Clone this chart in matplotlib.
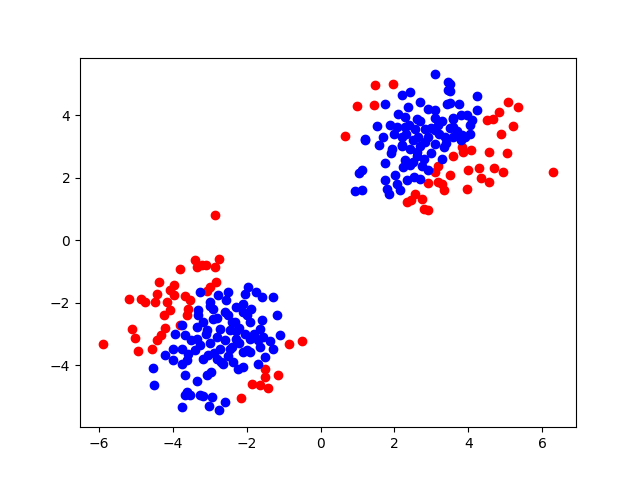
import matplotlib
matplotlib.use("Agg")
import matplotlib.pyplot as plt

# upper right cluster
red1_x = [1.48, 1.96, 0.98, 1.45, 0.65, 5.09, 5.34, 4.84, 4.68, 4.52, 5.2, 4.89,
          3.10, 3.19, 2.90, 3.18, 3.28, 3.33, 2.56, 2.34, 2.74, 2.79, 2.92, 2.45,
          3.83, 3.6, 3.87, 4.07, 4.57, 5.06, 3.51, 4.0, 4.30, 4.71, 4.94, 4.35,
          4.57, 3.96, 6.31]
red1_y = [4.96, 4.98, 4.29, 4.34, 3.33, 4.41, 4.26, 4.11, 3.89, 3.84, 3.65, 3.41,
          2.19, 2.37, 1.83, 1.87, 1.81, 1.6, 1.49, 1.23, 1.33, 1.01, 0.98, 1.3,
          2.97, 2.69, 2.83, 2.90, 2.83, 2.79, 2.08, 2.24, 2.31, 2.31, 2.19, 2.0,
          1.87, 1.65, 2.19]
blue1_x = [4.23, 3.76, 4.23, 3.51, 3.51, 3.51, 3.96, 4.1, 4.05, 3.6, 3.6, 4.05, 3.83,
           3.10, 3.46, 3.46, 2.43, 2.2, 1.75, 2.7, 2.38, 2.92, 3.10, 3.42, 2.11,
           2.29, 2.61, 3.19, 1.52, 1.88, 2.06, 2.29, 2.56, 2.83, 3.10, 1.21, 1.70,
           2.2, 2.65, 3.37, 1.21, 1.57, 1.93, 2.2, 2.43, 2.61, 2.83, 3.10, 3.33,
           1.75, 2.29, 2.43, 2.24, 2.74, 2.92, 1.12, 1.04, 2.02, 1.75, 2.34, 2.52,
           2.7, 2.06, 1.79, 2.15, 1.84, 1.12, 0.94,
           2.3, 2.5, 2.7, 2.9, 3.0, 3.2, 3.4, 3.6, 3.8, 3.5, 2.6, 2.8, 3.0, 3.3,
           2.5, 2.2, 2.0, 1.9, 3.7, 3.9, 2.4, 2.7, 3.1, 3.3, 3.6, 3.8]
blue1_y = [4.62, 4.37, 4.16, 5.01, 4.77, 4.38, 4.0, 3.84, 3.7, 3.89, 3.63, 3.41, 3.36,
           5.30, 5.07, 4.8, 4.75, 4.64, 4.37, 4.41, 4.27, 4.21, 4.16, 4.37, 4.05,
           3.95, 3.89, 3.68, 3.66, 3.68, 3.63, 3.63, 3.57, 3.57, 3.52, 3.25, 3.31,
           3.31, 3.31, 3.31, 3.2, 3.04, 2.93, 3.04, 2.93, 2.83, 3.15, 3.09, 2.99,
           2.47, 2.56, 2.4, 2.35, 2.37, 2.26, 2.26, 2.15, 2.08, 1.94, 1.94, 2.03,
           1.97, 1.79, 1.65, 1.6, 1.49, 1.62, 1.58,
           3.4, 3.2, 3.0, 3.3, 3.6, 3.4, 3.1, 3.3, 3.2, 3.6, 2.7, 2.6, 2.8, 2.6,
           2.5, 3.0, 3.4, 2.8, 3.5, 3.3, 3.7, 3.8, 3.9, 3.8, 3.9, 4.0]

# lower left cluster
red2_x = [-3.81, -3.40, -3.36, -3.22, -2.85, -2.75, -2.87, -3.11, -4.37, -3.96,
          -4.08, -5.18, -4.87, -4.76, -4.49, -4.44, -4.17, -3.97, -3.67, -3.54,
          -4.08, -4.24, -3.58, -3.63, -5.12, -5.03, -4.21, -4.33, -4.44, -3.81,
          -5.90, -4.95, -4.57, -2.84, -3.0, -3.09, -0.85, -0.5, -1.51, -1.15,
          -1.51, -1.86, -1.65, -1.42, -2.17]
red2_y = [-0.93, -0.64, -0.85, -0.8, 0.80, -0.59, -0.85, -0.8, -1.33, -1.44,
          -1.6, -1.87, -1.87, -1.99, -1.97, -1.71, -1.97, -1.76, -1.78, -1.92,
          -2.24, -2.4, -2.19, -2.4, -2.83, -3.12, -2.81, -3.04, -3.2, -2.72,
          -3.33, -3.55, -3.47, -1.35, -1.49, -1.63, -3.31, -3.23, -4.13, -4.3,
          -4.37, -4.59, -4.62, -4.73, -5.05]
blue2_x = [-3.27, -3.31, -3.31, -3.76, -3.94, -3.67, -3.36, -3.36,
           -4.21, -4.0, -4.0, -3.76, -3.76, -3.58, -3.63, -4.55, -4.51, -3.67,
           -3.36, -3.63, -3.67, -3.54, -3.76, -3.27, -3.27,
           -1.29, -1.51, -1.69, -2.1, -2.24, -2.96, -3.09, -3.18, -2.93, -3.02,
           -2.6, -2.76, -1.65, -1.92, -2.1, -2.37, -2.64, -2.82, -3.05, -2.46, -2.73,
           -1.98, -1.76, -1.6, -1.29, -2.05, -2.51, -2.78, -2.57, -3.0, -2.91,
           -2.28, -2.1, -1.88, -2.1, -2.51, -1.18, -2.91, -2.33, -1.92, -1.6,
           -1.65, -3.18, -3.09, -2.73, -2.46, -2.05, -1.92, -1.56, -1.69, -1.38,
           -1.1, -2.82, -2.28,
           -3.0, -2.8, -2.6, -2.4, -2.2, -2.6, -2.4, -2.2, -2.0, -2.9, -3.1,
           -3.4, -2.7, -2.5, -3.2, -2.3, -2.0, -1.8, -3.5, -3.0]
blue2_y = [-1.65, -2.24, -2.4, -2.72, -2.99, -3.04, -2.77, -3.15,
           -3.66, -3.47, -3.84, -3.47, -3.95, -3.63, -3.84, -4.09, -4.62, -4.3,
           -4.51, -4.85, -4.96, -4.96, -5.33, -4.96, -3.36,
           -3.47, -3.73, -3.95, -4.05, -4.13, -4.21, -4.32, -4.98, -5.01, -5.3,
           -5.19, -5.44, -3.41, -3.57, -3.57, -3.89, -3.95, -3.79, -3.68, -3.47, -3.47,
           -1.49, -1.65, -1.81, -1.81, -1.71, -1.65, -1.74, -1.92, -1.97, -2.19,
           -2.13, -2.03, -2.19, -2.29, -2.4, -2.4, -2.51, -2.61, -2.61, -2.56,
           -2.83, -2.61, -2.88, -2.83, -2.88, -2.99, -3.15, -3.09, -3.2, -3.23,
           -3.04, -3.09, -3.15,
           -3.3, -2.5, -2.3, -2.6, -2.8, -3.2, -3.4, -3.3, -3.5, -3.6, -3.0,
           -3.5, -3.9, -3.7, -3.8, -2.9, -2.4, -3.0, -3.2, -2.1]

fig = plt.figure(figsize=(6.4, 4.8), dpi=100)
plt.plot(red1_x + red2_x, red1_y + red2_y, 'ro', markersize=6)
plt.plot(blue1_x + blue2_x, blue1_y + blue2_y, 'bo', markersize=6)
plt.xlim(-6.52, 6.92)
plt.ylim(-5.98, 5.84)
plt.savefig("out.png")
